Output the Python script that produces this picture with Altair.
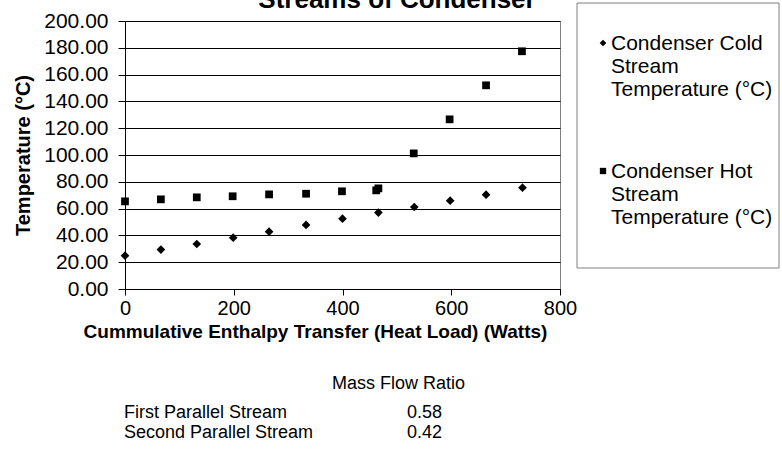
import altair as alt
import pandas as pd

# ---- data ----
series_names = ["Condenser Cold Stream Temperature (°C)", "Condenser Hot Stream Temperature (°C)"]
legend_lines = [["Condenser Cold", "Stream", "Temperature (°C)"],
                ["Condenser Hot", "Stream", "Temperature (°C)"]]

cold_heat = [0, 66, 132, 199, 265, 333, 400, 466, 532, 598, 664, 731]
cold_temp = [24.9, 29.4, 33.6, 38.3, 42.8, 47.8, 52.5, 57.0, 61.2, 65.9, 70.4, 75.6]

hot_heat = [0, 66, 132, 198, 265, 333, 399, 462, 466, 531, 597, 664, 730]
hot_temp = [65.4, 66.9, 68.4, 69.2, 70.6, 71.1, 72.9, 73.6, 75.1, 101.2, 126.6, 152.0, 177.4]

title_text = "Streams of Condenser"
x_title = "Cummulative Enthalpy Transfer (Heat Load) (Watts)"
y_title = "Temperature (°C)"

table_header = "Mass Flow Ratio"
table_rows = ["First Parallel Stream", "Second Parallel Stream"]
table_values = ["0.58", "0.42"]

x_ticks = [0, 200, 400, 600, 800]
y_ticks = [0, 20, 40, 60, 80, 100, 120, 140, 160, 180, 200]

FONT = "Liberation Sans"

df = pd.concat([
    pd.DataFrame({"heat": cold_heat, "temp": cold_temp, "series": series_names[0]}),
    pd.DataFrame({"heat": hot_heat, "temp": hot_temp, "series": series_names[1]}),
])

W, H = 435, 268

points = alt.Chart(df).mark_point(filled=True, opacity=1, color="black").encode(
    x=alt.X("heat:Q", scale=alt.Scale(domain=[0, 800], nice=False),
            axis=alt.Axis(values=x_ticks, title=x_title, grid=False, format="d",
                          tickSize=6, labelPadding=3, labelFontSize=20, labelFlush=False,
                          titleFontSize=19, titleFontWeight="bold",
                          titleX=190, titleY=48, titleBaseline="alphabetic")),
    y=alt.Y("temp:Q", scale=alt.Scale(domain=[0, 200], nice=False),
            axis=alt.Axis(values=y_ticks, title=y_title, format=".2f",
                          tickSize=7, labelPadding=10, labelFontSize=21, labelFlush=False,
                          titleFontSize=20, titleFontWeight="bold", titlePadding=10)),
    shape=alt.Shape("series:N", scale=alt.Scale(domain=series_names, range=["diamond", "square"]), legend=None),
    size=alt.Size("series:N", scale=alt.Scale(domain=series_names, range=[75, 60]), legend=None),
)

layers = [points]

# chart title (cut off at top in the reference)
title_df = pd.DataFrame({"t": [title_text]})
layers.append(alt.Chart(title_df).mark_text(fontSize=26, fontWeight="bold", align="center",
                                            baseline="alphabetic", font=FONT).encode(
    x=alt.value(272), y=alt.value(-13), text="t:N"))

# legend box
box_df = pd.DataFrame({"a": [1]})
layers.append(alt.Chart(box_df).mark_rect(fill="white", stroke="#808080", strokeWidth=1).encode(
    x=alt.value(452), x2=alt.value(654), y=alt.value(-18), y2=alt.value(247)))

leg_df = pd.DataFrame({"series": series_names,
                       "label": ["\n".join(l) for l in legend_lines]})
leg_y = [22, 150]
for i, s in enumerate(series_names):
    sub = alt.Chart(leg_df).transform_filter(alt.datum.series == s)
    layers.append(sub.mark_point(filled=True, opacity=1, color="black",
                                 shape=["diamond", "square"][i], size=[45, 40][i]).encode(
        x=alt.value(478), y=alt.value(leg_y[i])))
    layers.append(sub.mark_text(align="left", baseline="top", fontSize=21, lineHeight=23,
                                lineBreak="\n", font=FONT).encode(
        x=alt.value(486), y=alt.value(leg_y[i] - 10), text="label:N"))

# mass flow table below chart
tab_df = pd.DataFrame({"name": table_rows, "val": table_values, "row": [0, 1]})
layers.append(alt.Chart(pd.DataFrame({"h": [table_header]})).mark_text(
    align="left", baseline="middle", fontSize=18, font=FONT).encode(
    x=alt.value(207), y=alt.value(363), text="h:N"))
row_y = [392, 412]
for i in range(2):
    sub = alt.Chart(tab_df).transform_filter(alt.datum.row == i)
    layers.append(sub.mark_text(align="left", baseline="middle", fontSize=18, font=FONT).encode(
        x=alt.value(-1), y=alt.value(row_y[i]), text="name:N"))
    layers.append(sub.mark_text(align="left", baseline="middle", fontSize=18, font=FONT).encode(
        x=alt.value(282), y=alt.value(row_y[i]), text="val:N"))

chart = alt.layer(*layers).properties(
    width=W, height=H,
    autosize=alt.AutoSizeParams(type="none"),
    padding={"left": 125, "top": 21, "right": 222, "bottom": 161},
    background="white",
).configure_view(stroke="#808080", strokeWidth=1).configure_axis(
    labelFont=FONT, titleFont=FONT, labelColor="black", titleColor="black",
    domainColor="black", tickColor="black", gridColor="black", gridWidth=1,
    gridOpacity=1, domainWidth=1, tickWidth=1,
).configure_axisX(labelAngle=0)

chart.save("out.html", embed_options={"renderer": "svg", "actions": False})
